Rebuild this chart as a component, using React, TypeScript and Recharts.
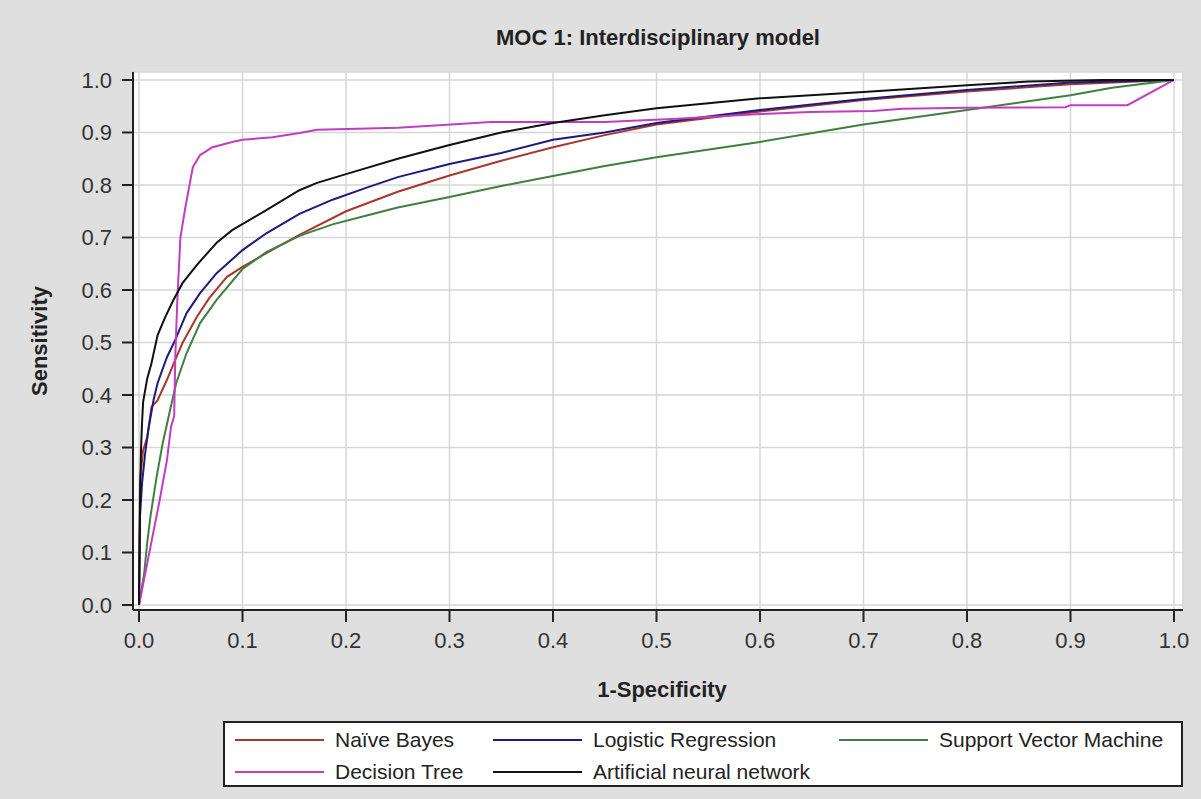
import { LineChart, Line, XAxis, YAxis, CartesianGrid } from 'recharts'

// ROC points as [1-specificity, sensitivity]
const naiveBayes: [number, number][] = [
  [0, 0], [0.001, 0.24], [0.004, 0.295], [0.008, 0.32], [0.012, 0.377], [0.018, 0.39],
  [0.027, 0.429], [0.035, 0.467], [0.042, 0.499], [0.056, 0.549], [0.068, 0.585],
  [0.085, 0.625], [0.1, 0.644], [0.123, 0.67], [0.155, 0.705], [0.2, 0.75], [0.25, 0.787],
  [0.3, 0.818], [0.35, 0.846], [0.4, 0.872], [0.45, 0.895], [0.5, 0.915], [0.6, 0.94],
  [0.7, 0.962], [0.8, 0.978], [0.9, 0.992], [1, 1],
]

const logisticRegression: [number, number][] = [
  [0, 0], [0.001, 0.17], [0.003, 0.233], [0.006, 0.29], [0.009, 0.333], [0.014, 0.39],
  [0.018, 0.423], [0.027, 0.472], [0.035, 0.505], [0.046, 0.556], [0.059, 0.594],
  [0.075, 0.632], [0.1, 0.676], [0.123, 0.708], [0.155, 0.745], [0.187, 0.772],
  [0.22, 0.795], [0.25, 0.815], [0.3, 0.84], [0.35, 0.861], [0.4, 0.886], [0.45, 0.9],
  [0.5, 0.918], [0.6, 0.943], [0.7, 0.964], [0.8, 0.981], [0.9, 0.995], [1, 1],
]

const svm: [number, number][] = [
  [0, 0], [0.005, 0.06], [0.008, 0.12], [0.011, 0.168], [0.017, 0.244], [0.023, 0.309],
  [0.03, 0.371], [0.036, 0.423], [0.046, 0.48], [0.059, 0.537], [0.075, 0.581], [0.1, 0.64],
  [0.123, 0.672], [0.155, 0.703], [0.187, 0.725], [0.22, 0.742], [0.25, 0.757], [0.3, 0.777],
  [0.35, 0.798], [0.4, 0.817], [0.45, 0.836], [0.5, 0.853], [0.6, 0.882], [0.7, 0.915],
  [0.8, 0.943], [0.9, 0.971], [0.94, 0.985], [1, 1],
]

const decisionTree: [number, number][] = [
  [0, 0], [0.01, 0.1], [0.02, 0.2], [0.027, 0.276], [0.031, 0.34], [0.034, 0.36],
  [0.035, 0.47], [0.037, 0.58], [0.04, 0.7], [0.045, 0.76], [0.052, 0.834], [0.059, 0.857],
  [0.071, 0.872], [0.09, 0.882], [0.1, 0.886], [0.129, 0.891], [0.155, 0.899], [0.172, 0.905],
  [0.25, 0.909], [0.29, 0.914], [0.34, 0.92], [0.45, 0.92], [0.52, 0.926], [0.6, 0.935],
  [0.648, 0.939], [0.709, 0.941], [0.738, 0.945], [0.8, 0.947], [0.895, 0.948], [0.9, 0.952],
  [0.955, 0.952], [1, 1],
]

const neuralNet: [number, number][] = [
  [0, 0], [0.001, 0.2], [0.002, 0.3], [0.003, 0.35], [0.004, 0.387], [0.008, 0.432],
  [0.012, 0.46], [0.018, 0.514], [0.025, 0.547], [0.033, 0.58], [0.042, 0.613], [0.056, 0.648],
  [0.075, 0.69], [0.09, 0.714], [0.123, 0.752], [0.155, 0.79], [0.172, 0.804], [0.204, 0.823],
  [0.25, 0.85], [0.3, 0.876], [0.35, 0.9], [0.4, 0.918], [0.45, 0.933], [0.5, 0.946],
  [0.6, 0.965], [0.7, 0.977], [0.8, 0.99], [0.86, 0.997], [0.93, 1], [1, 1],
]

const ticks = [0, 0.1, 0.2, 0.3, 0.4, 0.5, 0.6, 0.7, 0.8, 0.9, 1]

const series = [
  { name: 'Naïve Bayes', color: '#a8382e', points: naiveBayes },
  { name: 'Logistic Regression', color: '#1c1c7c', points: logisticRegression },
  { name: 'Support Vector Machine', color: '#3f7f3f', points: svm },
  { name: 'Decision Tree', color: '#c23cc2', points: decisionTree },
  { name: 'Artificial neural network', color: '#111111', points: neuralNet },
]

const FONT = 'Arial, "Liberation Sans", sans-serif'
const INK = '#222'
const xDomain = [-0.0058, 1.0087]
const yDomain = [-0.0095, 1.0152]

// legend slots: [left, top] inside the box
const legendSlots = [[10, 17], [268, 17], [614, 17], [10, 49], [268, 49]]

const tickStyle = { fontSize: 22, fill: '#333', fontFamily: FONT }

export default function App() {
  return (
    <div style={{
      position: 'absolute', left: 0, top: 0, width: 1201, height: 799,
      background: '#dfdfdf', fontFamily: FONT, color: INK, overflow: 'hidden'
    }}>
      <LineChart width={1201} height={799} margin={{ top: 72, right: 18, bottom: 0, left: 0 }}>
        <CartesianGrid stroke="#d6d6d6" strokeWidth={1.5} fill="#ffffff" />
        <XAxis dataKey="x" type="number" domain={xDomain} ticks={ticks} height={189}
          tickFormatter={v => v.toFixed(1)} tick={tickStyle} tickSize={12} tickMargin={10}
          stroke={INK} strokeWidth={2} allowDataOverflow />
        <XAxis xAxisId="top" orientation="top" type="number" domain={xDomain} height={0}
          tick={false} tickLine={false} stroke={INK} strokeWidth={2} />
        <YAxis type="number" domain={yDomain} ticks={ticks} width={133}
          tickFormatter={v => v.toFixed(1)} tick={tickStyle} tickSize={11} tickMargin={10}
          stroke={INK} strokeWidth={2} allowDataOverflow />
        <YAxis yAxisId="right" orientation="right" type="number" domain={yDomain} width={0}
          tick={false} tickLine={false} stroke={INK} strokeWidth={2} />
        {series.map(s => (
          <Line key={s.name} data={s.points.map(([x, y]) => ({ x, y }))} dataKey="y"
            name={s.name} type="linear" stroke={s.color} strokeWidth={2}
            dot={false} activeDot={false} isAnimationActive={false} />
        ))}
      </LineChart>

      <div style={{
        position: 'absolute', left: 658, top: 38, transform: 'translate(-50%, -50%)',
        fontSize: 22, fontWeight: 'bold', whiteSpace: 'nowrap'
      }}>MOC 1: Interdisciplinary model</div>

      <div style={{
        position: 'absolute', left: 662, top: 690, transform: 'translate(-50%, -50%)',
        fontSize: 22, fontWeight: 'bold', whiteSpace: 'nowrap'
      }}>1-Specificity</div>

      <div style={{
        position: 'absolute', left: 40, top: 341, transform: 'translate(-50%, -50%) rotate(-90deg)',
        fontSize: 22, fontWeight: 'bold', whiteSpace: 'nowrap'
      }}>Sensitivity</div>

      <div style={{
        position: 'absolute', left: 223, top: 721, width: 960, height: 66,
        boxSizing: 'border-box', border: `2px solid ${INK}`, background: '#fff'
      }}>
        {series.map((s, i) => (
          <div key={s.name} style={{
            position: 'absolute', left: legendSlots[i][0], top: legendSlots[i][1],
            transform: 'translateY(-50%)', display: 'flex', alignItems: 'center',
            whiteSpace: 'nowrap', fontSize: 21, color: '#222'
          }}>
            <span style={{ display: 'inline-block', width: 89, height: 2, background: s.color, marginRight: 11 }} />
            {s.name}
          </div>
        ))}
      </div>
    </div>
  )
}
